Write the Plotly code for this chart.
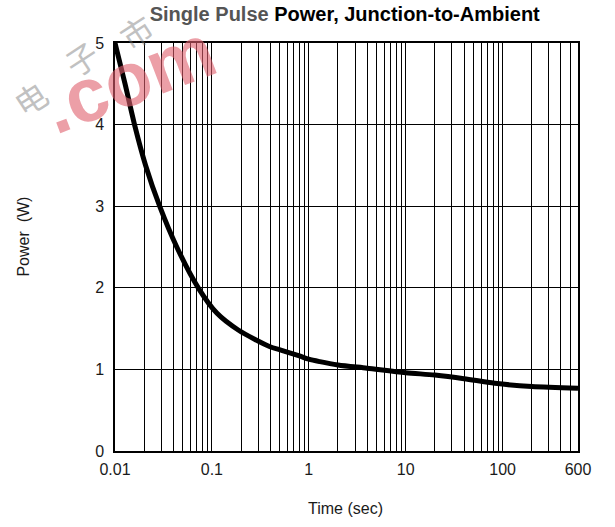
import math
import plotly.graph_objects as go

# ---- data ----
time_s = [0.01, 0.0127, 0.0159, 0.0207, 0.0289, 0.0434, 0.0723, 0.113, 0.187,
          0.398, 0.505, 0.8, 1.0, 1.3, 2.0, 4.0, 10, 20, 40, 83, 200, 600]
power_w = [5.0, 4.5, 4.0, 3.5, 3.0, 2.5, 2.0, 1.687, 1.483,
           1.278, 1.24, 1.165, 1.125, 1.095, 1.055, 1.015, 0.96, 0.93, 0.886, 0.83, 0.79, 0.77]

x_labelled = {0.01: "0.01", 0.1: "0.1", 1: "1", 10: "10", 100: "100", 600: "600"}
decades = [0.01, 0.1, 1, 10, 100]
y_ticks = [0, 1, 2, 3, 4, 5]

# grid positions at every 1..9 multiple of each decade, up to 600
x_tickvals = []
for d in decades:
    for m in range(1, 10):
        v = round(d * m, 6)
        if v <= 600:
            x_tickvals.append(v)
x_tickvals.append(600)
x_ticktext = [x_labelled.get(v, "") for v in x_tickvals]

FONT = "Liberation Sans, Arial, sans-serif"
W, H = 615, 527
# plot area in screen pixels
SX0, SX1, SY0, SY1 = 114.5, 578, 43, 451
L, T, R, B = SX0, SY0, W - SX1, H - SY1

def scr_to_paper(px, py):
    return (px - SX0) / (SX1 - SX0), (SY1 - py) / (SY1 - SY0)

fig = go.Figure()
fig.add_trace(go.Scatter(
    x=time_s, y=power_w, mode="lines",
    line=dict(color="black", width=5, shape="spline", smoothing=0.8),
    showlegend=False, hoverinfo="skip",
))

tx, _ = scr_to_paper(344.5, 0)
fig.update_layout(
    width=W, height=H,
    margin=dict(l=L, r=R, t=T, b=B, pad=0),
    paper_bgcolor="white", plot_bgcolor="white",
    font=dict(family=FONT, size=16, color="#1a1a1a"),
    title=dict(text="<b><span style='color:#555555'>Single Pulse</span> Power, Junction-to-Ambient</b>",
               x=tx, xanchor="center", xref="paper",
               y=1 - 14 / H, yanchor="middle", yref="container",
               font=dict(family=FONT, size=20, color="black")),
    xaxis=dict(type="log", range=[math.log10(0.01), math.log10(600)],
               tickvals=x_tickvals, ticktext=x_ticktext, ticks="",
               showgrid=True, gridcolor="black", gridwidth=1,
               showline=True, linecolor="black", linewidth=1.5, mirror=True,
               zeroline=False, ticklabelstandoff=3,
               tickfont=dict(family=FONT, size=16, color="#1a1a1a")),
    yaxis=dict(range=[0, 5], tickvals=y_ticks, ticks="",
               showgrid=True, gridcolor="black", gridwidth=1,
               showline=True, linecolor="black", linewidth=1.5, mirror=True,
               zeroline=False, ticklabelstandoff=6,
               tickfont=dict(family=FONT, size=16, color="#1a1a1a")),
)

ax, ay = scr_to_paper(345, 508)
fig.add_annotation(text="Time (sec)", xref="paper", yref="paper", x=ax, y=ay,
                   showarrow=False, xanchor="center", yanchor="middle",
                   font=dict(family=FONT, size=16, color="#1a1a1a"))
ax, ay = scr_to_paper(22, 237)
fig.add_annotation(text="Power\u00a0 (W)", xref="paper", yref="paper", x=ax, y=ay,
                   showarrow=False, xanchor="center", yanchor="middle", textangle=-90,
                   font=dict(family=FONT, size=16, color="#1a1a1a"))

# faint watermark in the top-left corner of the reference
for ch, (cx, cy) in zip("电子市", [(29, 98), (80, 58), (136, 31)]):
    ax, ay = scr_to_paper(cx, cy)
    fig.add_annotation(text=ch, xref="paper", yref="paper", x=ax, y=ay,
                       showarrow=False, xanchor="center", yanchor="middle", textangle=-33,
                       opacity=0.45, font=dict(family="Noto Sans CJK SC", size=32, color="#777777"))
ax, ay = scr_to_paper(128, 78)
fig.add_annotation(text="<b>.com</b>", xref="paper", yref="paper", x=ax, y=ay,
                   showarrow=False, xanchor="center", yanchor="middle", textangle=-21,
                   opacity=0.6, font=dict(family=FONT, size=76, color="#e0606e"))

fig.write_html("out.html", config={"displayModeBar": False},
               post_script="document.body.style.margin='0px';")
